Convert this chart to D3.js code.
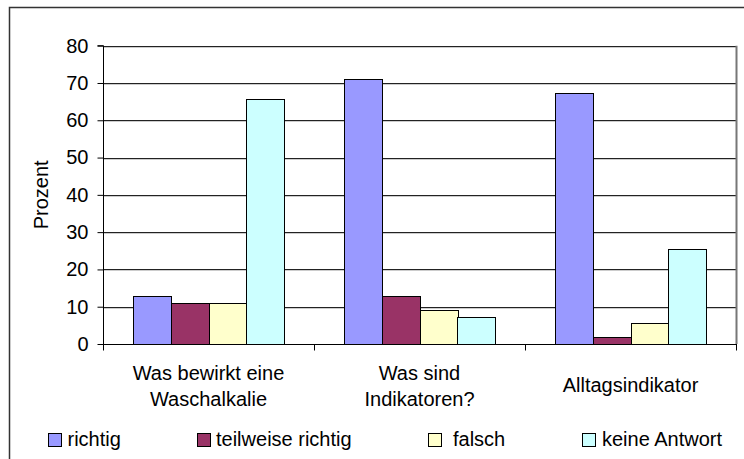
<!DOCTYPE html>
<html><head><meta charset="utf-8">
<script src="https://cdn.jsdelivr.net/npm/d3@7"></script>
<style>body{margin:0;background:#fff}svg{display:block}text{font-family:Arial,"Liberation Sans",sans-serif;fill:#000}</style>
</head><body>
<script>
const categories = [["Was bewirkt eine","Waschalkalie"],["Was sind","Indikatoren?"],["Alltagsindikator"]];
const seriesNames = ["richtig","teilweise richtig","falsch","keine Antwort"];
const richtig = [12.8, 71.0, 67.3];
const teilweise = [11.1, 12.8, 1.8];
const falsch = [11.1, 9.1, 5.5];
const keine = [65.6, 7.2, 25.4];
const colors = ["#9999FF","#993366","#FFFFCC","#CCFFFF"];
const yTicks = [0,10,20,30,40,50,60,70,80];

const series = [richtig, teilweise, falsch, keine];
const W = 744, H = 459;
const m = {l:103, r:736, t:45.7, b:344};
const FS = "20px";
const svg = d3.select("body").append("svg").attr("width",W).attr("height",H);

// outer chart border (cropped)
svg.append("rect").attr("x",9.5).attr("y",7.5).attr("width",800).attr("height",600)
  .attr("fill","none").attr("stroke","#333").attr("stroke-width",1.5);

const x0 = d3.scaleBand().domain(d3.range(categories.length)).range([m.l,m.r]).padding(0);
const gap = x0.bandwidth()*0.28;
const x1 = d3.scaleBand().domain(d3.range(series.length)).range([gap/2, x0.bandwidth()-gap/2]).padding(0);
const y = d3.scaleLinear().domain([0,80]).range([m.b,m.t]);

// gridlines
svg.append("g").selectAll("line").data(yTicks.slice(1)).join("line")
  .attr("x1",m.l).attr("x2",m.r).attr("y1",d=>Math.round(y(d))+0.5).attr("y2",d=>Math.round(y(d))+0.5)
  .attr("stroke","#222").attr("stroke-width",1);
svg.append("g").selectAll("line").data(yTicks.slice(1)).join("line")
  .attr("x1",m.l).attr("x2",m.r).attr("y1",d=>Math.round(y(d))+1.5).attr("y2",d=>Math.round(y(d))+1.5)
  .attr("stroke","#ccc").attr("stroke-width",1);

// right plot edge
svg.append("line").attr("x1",m.r+0.5).attr("x2",m.r+0.5).attr("y1",y(80)).attr("y2",m.b)
  .attr("stroke","#777").attr("stroke-width",2);

// bars
const g = svg.append("g");
series.forEach((vals,si)=>{
  g.selectAll(null).data(vals).join("rect")
    .attr("x",(d,i)=>Math.round(x0(i)+x1(si))+0.5)
    .attr("y",d=>Math.round(y(d))+0.5)
    .attr("width",Math.round(x1.bandwidth()))
    .attr("height",d=>Math.round(y(0))-Math.round(y(d)))
    .attr("fill",colors[si]).attr("stroke","#000").attr("stroke-width",1);
});

// y axis
const ya = svg.append("g").attr("transform",`translate(${m.l+0.5},0)`)
  .call(d3.axisLeft(y).tickValues(yTicks).tickSize(6).tickPadding(9).tickFormat(d3.format("d")));
ya.select(".domain").attr("stroke","#000").attr("d",`M-6,${m.t}H0V${m.b}`);
ya.selectAll(".tick line").attr("stroke","#000");
ya.selectAll("text").attr("font-size",FS).attr("font-family","Arial,'Liberation Sans',sans-serif").attr("fill","#000");

// x axis
const xa = svg.append("g").attr("transform",`translate(0,${m.b+0.5})`);
xa.append("line").attr("x1",m.l).attr("x2",m.r+1).attr("y1",0).attr("y2",0).attr("stroke","#000");
xa.selectAll("line.t").data(d3.range(categories.length+1)).join("line").attr("class","t")
  .attr("x1",i=>Math.round(i<categories.length?x0(i):m.r)+0.5).attr("x2",i=>Math.round(i<categories.length?x0(i):m.r)+0.5)
  .attr("y1",0).attr("y2",6).attr("stroke","#000");

// category labels
categories.forEach((lines,i)=>{
  const cx = x0(i)+x0.bandwidth()/2;
  const base = lines.length===1 ? 392 : 380;
  const t = svg.append("text").attr("text-anchor","middle").attr("font-size",FS);
  lines.forEach((ln,j)=>t.append("tspan").attr("x",cx).attr("y",base+j*26).text(ln));
});

// y title
svg.append("text").attr("transform",`translate(48,${(m.t+m.b)/2}) rotate(-90)`)
  .attr("text-anchor","middle").attr("font-size",FS).text("Prozent");

// legend
const legX = [48.5, 197.5, 428.5, 582.5];
const legTX = [67.5, 216, 453, 602];
seriesNames.forEach((s,i)=>{
  svg.append("rect").attr("x",legX[i]).attr("y",433.5).attr("width",13).attr("height",13)
    .attr("fill",colors[i]).attr("stroke","#000").attr("stroke-width",1);
  svg.append("text").attr("x",legTX[i]).attr("y",446).attr("font-size",FS).text(s);
});
</script>
</body></html>
